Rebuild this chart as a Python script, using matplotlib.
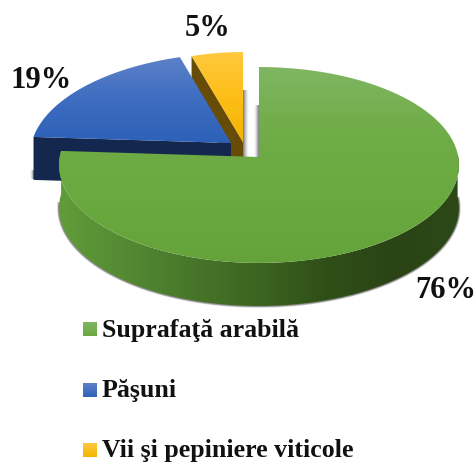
import numpy as np
import matplotlib
matplotlib.use("Agg")
import matplotlib.pyplot as plt
from matplotlib.colors import LinearSegmentedColormap
from matplotlib.patches import PathPatch, Polygon
from matplotlib.path import Path

categories = ["Suprafaţă arabilă", "Păşuni", "Vii şi pepiniere viticole"]
shares = [76, 19, 5]
pct_labels = ["76%", "19%", "5%"]

plt.rcParams["font.family"] = ["Liberation Serif", "DejaVu Serif"]
plt.rcParams["font.weight"] = "bold"

fig = plt.figure(figsize=(4.77, 4.63), dpi=100)
ax = fig.add_axes([0, 0, 1, 1])

# pie geometry in pixels, the disc is drawn with a small perspective
RX, RY, PERSP, DEPTH = 199.3, 97.3, 0.0816, 43


def rim(t, apex, xscale=1.0, skew=0.0):
    t = np.radians(t)
    u, v = np.sin(t), np.cos(t)
    X = RX * u / (1 + PERSP * v)
    Y = RY * v / (1 + PERSP * v)
    return np.column_stack([apex[0] + xscale * X + skew * Y, apex[1] - Y])


def grad_fill(pts, stops, extent, horizontal=False, zorder=1):
    cmap = LinearSegmentedColormap.from_list("g", stops)
    g = np.linspace(0, 1, 256)
    g = g.reshape(1, -1) if horizontal else g.reshape(-1, 1)
    im = ax.imshow(g, cmap=cmap, extent=extent, origin="upper", aspect="auto", zorder=zorder)
    patch = PathPatch(Path(pts), transform=ax.transData, fc="none", ec="none")
    ax.add_patch(patch)
    im.set_clip_path(patch)


def fade(x0, x1, y0, y1, zorder, rising=False):
    # soft grey shadow beside the cut faces
    g = np.linspace(0.8, 0, 64) ** 1.5
    if rising:
        g = g[::-1]
    rgba = np.zeros((1, 64, 4))
    rgba[..., :3] = 0.25
    rgba[..., 3] = g
    ax.imshow(rgba, extent=(x0, x1, y1, y0), aspect="auto", zorder=zorder)


angles = np.cumsum([0] + shares) * 3.6

# yellow slice, at the back
apex_y = (243, 142)
ty = np.linspace(angles[2], angles[3], 40)
top_y = rim(ty, apex_y, xscale=0.9)
fade(243, 249, 90, 157, 1)
fade(254, 259, 105, 157, 1, rising=True)
face = np.vstack([top_y[0], apex_y, np.add(apex_y, (0, DEPTH)), top_y[0] + (0, DEPTH)])
ax.add_patch(Polygon(face, fc="#664c06", ec="none", zorder=2))
grad_fill(np.vstack([apex_y, top_y, apex_y]), ["#ffc840", "#fdbf18", "#f0b400"], (185, 245, 142, 50), zorder=3)

# blue slice
apex_b = (231, 143)
tb = np.linspace(angles[1], angles[2], 60)
top_b = rim(tb, apex_b, skew=0.07)
fade(30, 34, 170, 179, 3, rising=True)
face = np.vstack([top_b[0], apex_b, np.add(apex_b, (0, DEPTH)), top_b[0] + (0, DEPTH)])
ax.add_patch(Polygon(face, fc="#14274f", ec="none", zorder=4))
grad_fill(np.vstack([apex_b, top_b, apex_b]), ["#5f82c8", "#3d6cc0", "#2c60b8"], (30, 235, 146, 55), zorder=5)

# green slice, front
apex_g = (259, 157)
tg = np.linspace(angles[0], angles[1], 200)
top_g = rim(tg, apex_g)
side_t = np.linspace(88, angles[1], 160)
side = rim(side_t, apex_g)
side_pts = np.vstack([side, side[::-1] + (0, DEPTH)])
low = side[(side_t > 88) & (side_t < 268)] + (0, DEPTH)
ax.plot(low[:, 0], low[:, 1], color="#555555", lw=2.5, alpha=0.3, zorder=5.5)
ax.plot(low[:, 0], low[:, 1], color="#555555", lw=1.5, alpha=0.5, zorder=5.6)
grad_fill(side_pts, ["#619c3a", "#548a33", "#477529", "#3c6421", "#2f4f18", "#2a4415", "#2d4917"],
          (59, 461, 310, 140), horizontal=True, zorder=6)
grad_fill(np.vstack([apex_g, top_g, apex_g]), ["#80b663", "#70ac48", "#69a93e", "#65a33a"], (55, 465, 265, 65), zorder=7)

ax.text(446, 291, pct_labels[0], fontsize=22, ha="center", va="center", color="#111111", zorder=8)
ax.text(41, 81, pct_labels[1], fontsize=22, ha="center", va="center", color="#111111", zorder=8)
ax.text(208, 29, pct_labels[2], fontsize=22, ha="center", va="center", color="#111111", zorder=8)

# legend
legend_y = [329, 390, 450]
legend_cols = [["#80b663", "#6aa83f"], ["#6080c8", "#2f62b8"], ["#ffc840", "#f2b600"]]
for name, y, cols in zip(categories, legend_y, legend_cols):
    box = np.array([[83, y - 7], [97, y - 7], [97, y + 7], [83, y + 7], [83, y - 7]])
    grad_fill(box, cols, (83, 97, y + 7, y - 7), zorder=8)
    ax.text(102, y + 1, name, fontsize=18.6, ha="left", va="center", color="#111111", zorder=8)

ax.set_xlim(0, 477)
ax.set_ylim(463, 0)
ax.axis("off")
fig.savefig("out.png", dpi=100)
